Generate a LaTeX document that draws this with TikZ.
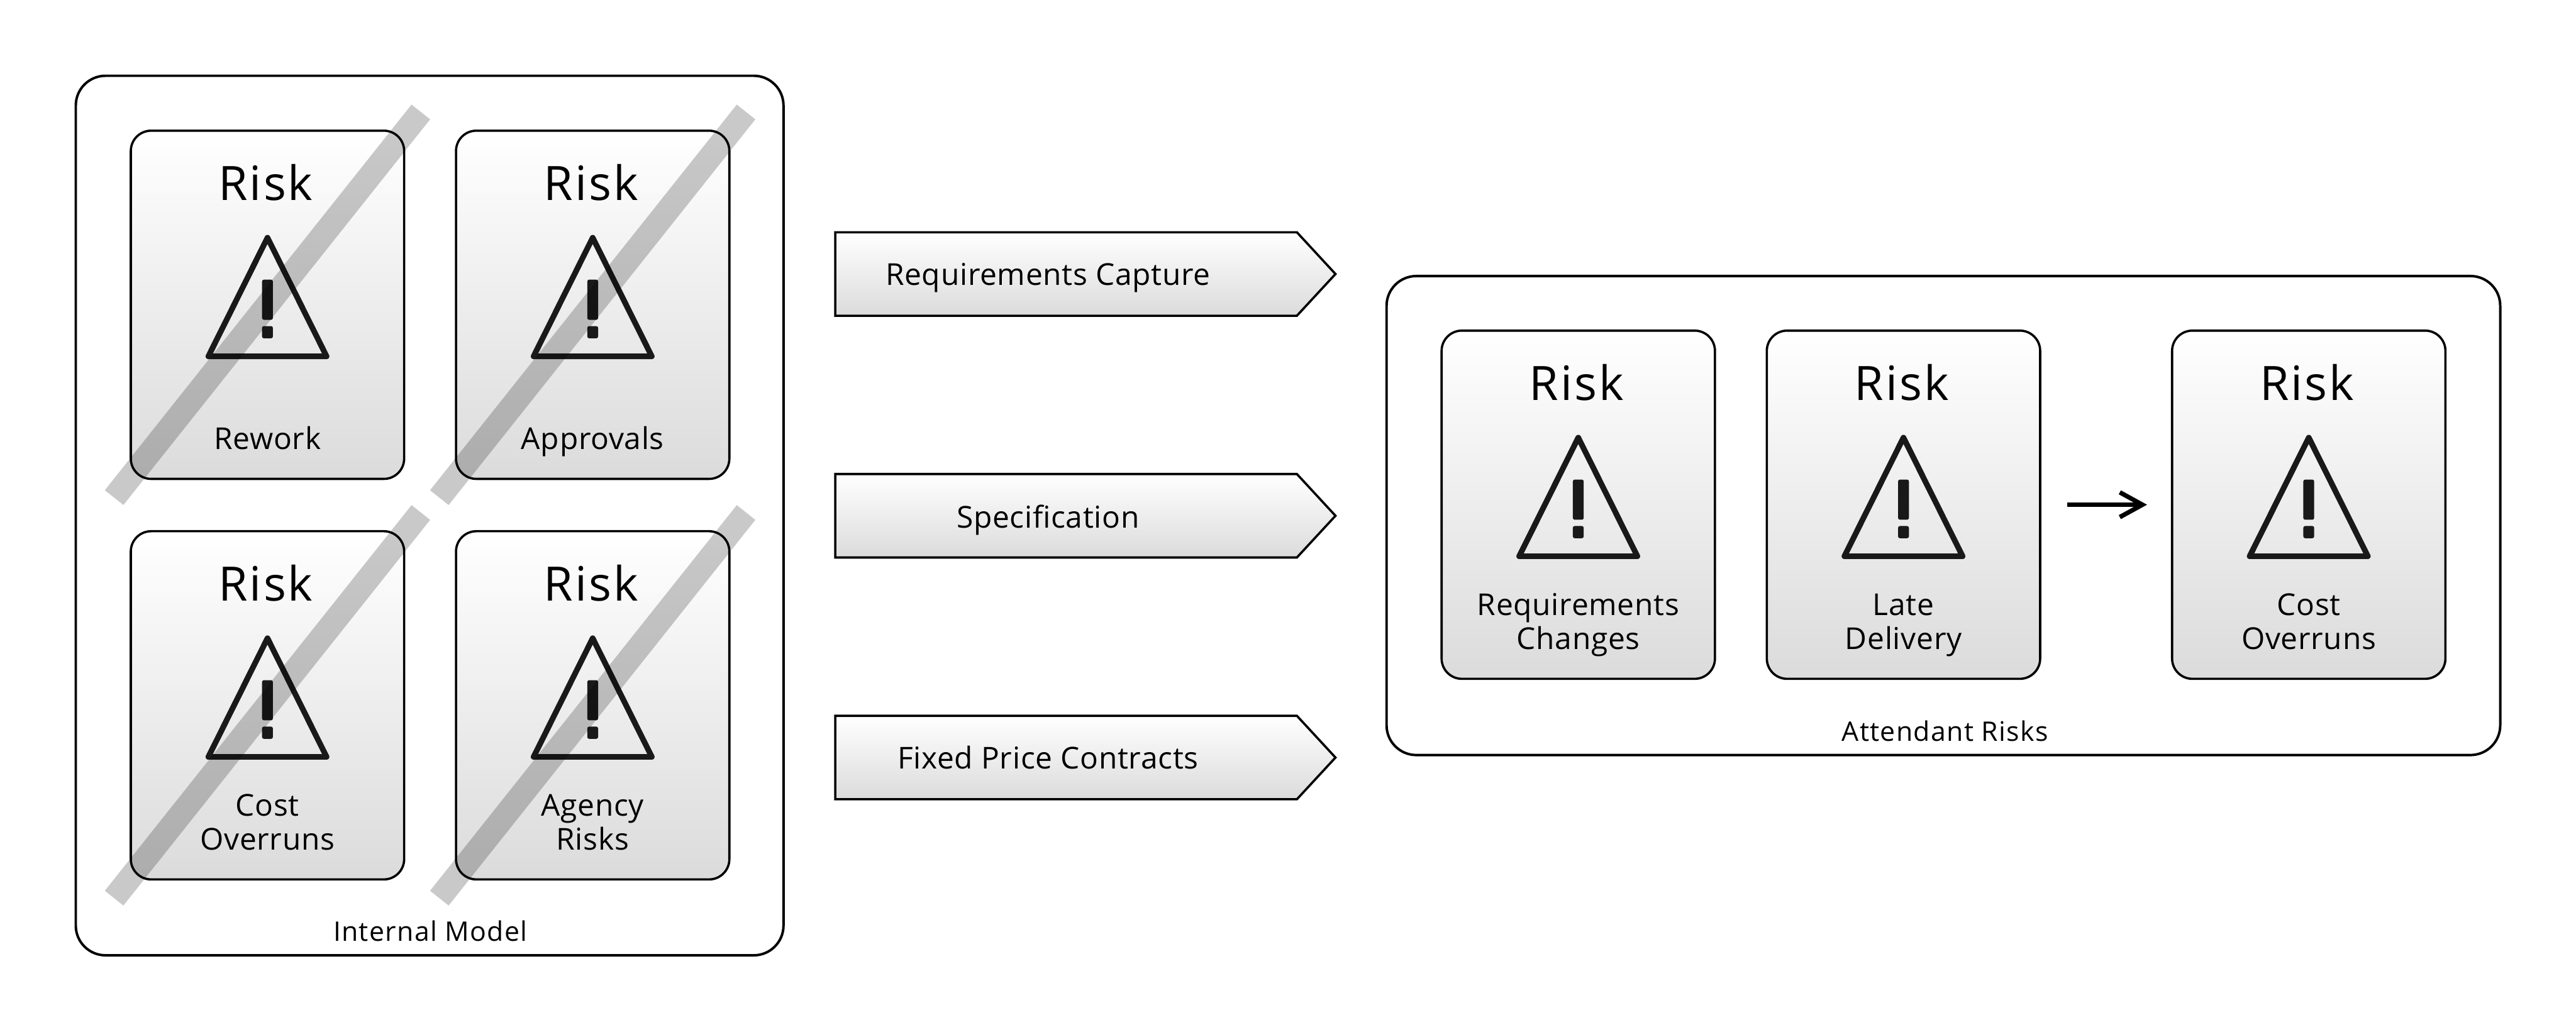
\documentclass[tikz,border=0pt]{standalone}
\usepackage{fontspec}
\setmainfont[LetterSpace=1.5]{Open Sans}
\usetikzlibrary{shapes.symbols,arrows.meta,positioning,calc}

\begin{document}
\begin{tikzpicture}[
    panel/.style={rectangle, draw, line width=0.055cm, rounded corners=0.66cm},
    card/.style={rectangle, draw, line width=0.05cm, rounded corners=0.45cm, minimum width=6.06cm, minimum height=7.72cm, inner sep=0pt, top color=white, bottom color=black!14},
    phase/.style={signal, signal to=east, signal pointer angle=94.5, draw, line width=0.05cm, minimum width=11.09cm, minimum height=1.85cm, inner sep=0pt, top color=white, bottom color=black!14},
    title/.style={anchor=base, inner sep=0pt, font=\fontsize{29.9}{32}\selectfont\addfontfeature{LetterSpace=4}},
    risklabel/.style={anchor=base, inner sep=0pt, align=center, font=\fontsize{19}{21.3}\selectfont},
    caption/.style={anchor=base, inner sep=0pt, font=\fontsize{17}{20}\selectfont\addfontfeature{LetterSpace=3}},
    strike/.style={line width=0.526cm, black, opacity=0.21},
    arrow/.style={-{Straight Barb[length=0.5cm, width=0.55cm, line width=0.1cm]}, line width=0.1cm},
    warning/.pic={
        \node[title] (title) at (-0.04, 2.3175) {Risk};
        \draw[line width=0.125cm, line join=round, black!90] (0, 1.4875) -- (1.31, -1.1425) -- (-1.31, -1.1425) -- cycle;
        \fill[black!90, rounded corners=0.04cm] (-0.12, 0.5575) rectangle (0.12, -0.3325);
        \fill[black!90, rounded corners=0.04cm] (-0.12, -0.4725) rectangle (0.12, -0.7425);
    }
]
\useasboundingbox (0, 0) rectangle (57.11, -22.87);

% Panels
\node[panel, minimum width=15.69cm, minimum height=19.5cm] (internal) at (9.525, -11.43) {};
\node[panel, minimum width=24.69cm, minimum height=10.62cm] (attendant) at (43.085, -11.43) {};
\node[caption] (internalcap) at (9.54, -20.87) {Internal Model};
\node[caption] (attendantcap) at (43.12, -16.43) {Attendant Risks};

% Internal model cards
\node[card] (c1) at (5.93, -6.7575) {};
\node[card] (c2) at (13.14, -6.7575) {};
\node[card] (c3) at (5.93, -15.6375) {};
\node[card] (c4) at (13.14, -15.6375) {};
\pic (w1) at (c1) {warning};
\pic (w2) at (c2) {warning};
\pic (w3) at (c3) {warning};
\pic (w4) at (c4) {warning};
\node[risklabel] (l1) at ($(c1)+(0, -3.2)$) {Rework};
\node[risklabel] (l2) at ($(c2)+(0, -3.2)$) {Approvals};
\node[risklabel] (l3) at ($(c3)+(0, -3.2)$) {Cost\\Overruns};
\node[risklabel] (l4) at ($(c4)+(0, -3.2)$) {Agency\\Risks};

% Phases
\node[phase] (req) at (23.635, -6.075) {};
\node[phase] (spec) at (23.635, -11.435) {};
\node[phase] (fixed) at (23.635, -16.795) {};
\node[risklabel] (reqtxt) at ($(req)+(-0.40, -0.255)$) {Requirements Capture};
\node[risklabel] (spectxt) at ($(spec)+(-0.40, -0.265)$) {Specification};
\node[risklabel] (fixedtxt) at ($(fixed)+(-0.40, -0.255)$) {Fixed Price Contracts};

% Attendant risk cards
\node[card] (c5) at (34.99, -11.19) {};
\node[card] (c6) at (42.20, -11.19) {};
\node[card] (c7) at (51.185, -11.19) {};
\pic (w5) at (c5) {warning};
\pic (w6) at (c6) {warning};
\pic (w7) at (c7) {warning};
\node[risklabel] (l5) at ($(c5)+(0, -3.2)$) {Requirements\\Changes};
\node[risklabel] (l6) at ($(c6)+(0, -3.2)$) {Late\\Delivery};
\node[risklabel] (l7) at ($(c7)+(0, -3.2)$) {Cost\\Overruns};

% Arrows
\draw[arrow, shorten <=0.58cm, shorten >=0.53cm] (c6.east) -- (c7.west);

% Strikes
\draw[strike] ($(c1)+(3.4, 4.275)$) -- ($(c1)-(3.4, 4.275)$);
\draw[strike] ($(c2)+(3.4, 4.275)$) -- ($(c2)-(3.4, 4.275)$);
\draw[strike] ($(c3)+(3.4, 4.275)$) -- ($(c3)-(3.4, 4.275)$);
\draw[strike] ($(c4)+(3.4, 4.275)$) -- ($(c4)-(3.4, 4.275)$);

\end{tikzpicture}
\end{document}
